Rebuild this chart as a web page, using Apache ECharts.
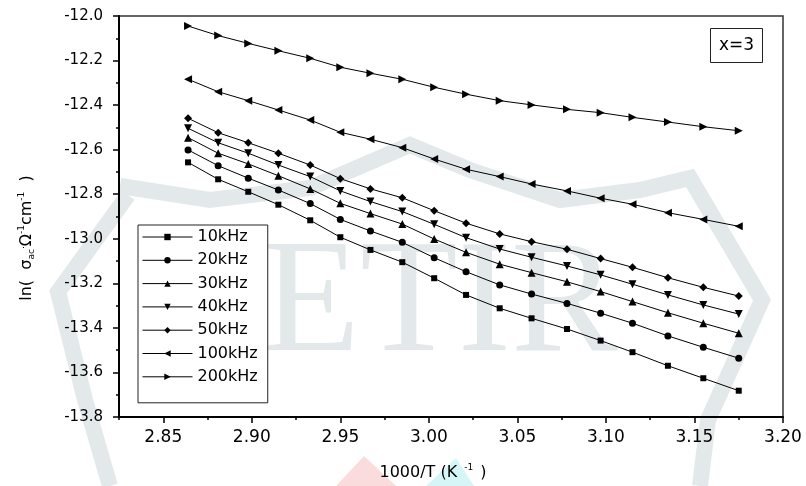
<!DOCTYPE html>
<html>
<head>
<meta charset="utf-8">
<script src="https://cdn.jsdelivr.net/npm/echarts@6/dist/echarts.min.js"></script>
<style>
  html, body { margin: 0; padding: 0; background: #fff; }
  #chart { width: 806px; height: 486px; }
</style>
</head>
<body>
<div id="chart"></div>
<script>
// 1000/T values (K^-1)
const invT = [2.864, 2.881, 2.898, 2.915, 2.933, 2.950, 2.967, 2.985, 3.003,
              3.021, 3.040, 3.058, 3.078, 3.097, 3.115, 3.135, 3.155, 3.175];

// ln(sigma_ac) for each frequency
const s10kHz  = [-12.657, -12.733, -12.789, -12.847, -12.917, -12.993, -13.050, -13.105, -13.177,
                 -13.252, -13.312, -13.357, -13.405, -13.457, -13.509, -13.570, -13.626, -13.682];
const s20kHz  = [-12.601, -12.672, -12.728, -12.781, -12.842, -12.913, -12.965, -13.016, -13.085,
                 -13.148, -13.207, -13.248, -13.290, -13.334, -13.379, -13.436, -13.487, -13.536];
const s30kHz  = [-12.546, -12.616, -12.664, -12.717, -12.776, -12.841, -12.887, -12.934, -13.001,
                 -13.061, -13.114, -13.152, -13.193, -13.237, -13.282, -13.332, -13.379, -13.424];
const s40kHz  = [-12.504, -12.569, -12.616, -12.669, -12.721, -12.785, -12.833, -12.878, -12.935,
                 -12.995, -13.046, -13.083, -13.122, -13.162, -13.204, -13.252, -13.297, -13.338];
const s50kHz  = [-12.459, -12.524, -12.569, -12.616, -12.669, -12.730, -12.776, -12.816, -12.874,
                 -12.930, -12.978, -13.013, -13.047, -13.089, -13.128, -13.175, -13.218, -13.257];
const s100kHz = [-12.284, -12.340, -12.380, -12.422, -12.467, -12.522, -12.553, -12.591, -12.642,
                 -12.688, -12.721, -12.754, -12.785, -12.818, -12.845, -12.883, -12.913, -12.944];
const s200kHz = [-12.045, -12.088, -12.123, -12.156, -12.190, -12.230, -12.257, -12.284, -12.320,
                 -12.351, -12.380, -12.399, -12.419, -12.434, -12.455, -12.476, -12.497, -12.515];

const xMajorTicks = [2.85, 2.90, 2.95, 3.00, 3.05, 3.10, 3.15, 3.20];
const xMinorTicks = [2.825, 2.875, 2.925, 2.975, 3.025, 3.075, 3.125, 3.175];

const seriesDefs = [
  { name: '10kHz',  data: s10kHz,  symbol: 'rect',     size: 6, rotate: 0 },
  { name: '20kHz',  data: s20kHz,  symbol: 'circle',   size: 7, rotate: 0 },
  { name: '30kHz',  data: s30kHz,  symbol: 'triangle', size: 8, rotate: 0 },
  { name: '40kHz',  data: s40kHz,  symbol: 'triangle', size: 8, rotate: 180 },
  { name: '50kHz',  data: s50kHz,  symbol: 'diamond',  size: 8, rotate: 0 },
  { name: '100kHz', data: s100kHz, symbol: 'triangle', size: 8, rotate: 90 },
  { name: '200kHz', data: s200kHz, symbol: 'triangle', size: 8, rotate: -90 }
];

const FONT = 'DejaVu Sans';
const WM = '#e3e9ea';

const chart = echarts.init(document.getElementById('chart'), null, { renderer: 'canvas' });

chart.setOption({
  backgroundColor: '#fff',
  animation: false,
  title: {
    text: 'x=3',
    left: 710,
    top: 28,
    padding: [8, 9, 8, 9],
    borderColor: '#222',
    borderWidth: 1,
    backgroundColor: '#fff',
    textStyle: { fontFamily: FONT, fontSize: 17, fontWeight: 'normal', color: '#000', lineHeight: 19 }
  },
  legend: {
    orient: 'vertical',
    left: 138,
    top: 225,
    padding: [4, 10, 18, 4],
    itemGap: 7.3,
    itemWidth: 50,
    itemHeight: 8,
    itemStyle: { color: '#000' },
    lineStyle: { color: '#000', width: 1 },
    backgroundColor: '#fff',
    borderColor: '#222',
    borderWidth: 1,
    textStyle: { fontFamily: FONT, fontSize: 16, color: '#000', lineHeight: 16 },
    data: seriesDefs.map(d => d.name)
  },
  grid: {
    left: 119, right: 23, top: 16, bottom: 69,
    show: true,
    borderColor: '#333',
    borderWidth: 1.5
  },
  xAxis: [{
    type: 'value',
    min: 2.825,
    max: 3.20,
    axisLine: { onZero: false, lineStyle: { color: '#000', width: 2 } },
    axisTick: { length: 6, customValues: xMajorTicks, lineStyle: { color: '#000', width: 1.5 } },
    axisLabel: {
      customValues: xMajorTicks,
      margin: 12,
      fontFamily: FONT, fontSize: 17, color: '#000',
      formatter: v => v.toFixed(2)
    },
    splitLine: { show: false }
  }, {
    type: 'value',
    min: 2.825,
    max: 3.20,
    position: 'bottom',
    axisLine: { show: false },
    axisTick: { length: 3, customValues: xMinorTicks, lineStyle: { color: '#000', width: 1.5 } },
    axisLabel: { show: false },
    splitLine: { show: false }
  }],
  yAxis: {
    type: 'value',
    min: -13.8,
    max: -12.0,
    interval: 0.2,
    axisLine: { show: true, onZero: false, lineStyle: { color: '#000', width: 2 } },
    axisTick: { show: true, length: 6, lineStyle: { color: '#000', width: 1.5 } },
    minorTick: { show: true, splitNumber: 2, length: 3, lineStyle: { color: '#000', width: 1.5 } },
    axisLabel: {
      margin: 16,
      fontFamily: FONT, fontSize: 15, color: '#000',
      formatter: v => v.toFixed(1)
    },
    splitLine: { show: false }
  },
  graphic: [
    // faint ETIR watermark behind the plot
    {
      type: 'text', z: -10, silent: true,
      style: { text: 'ETIR', x: 440, y: 308, align: 'center', verticalAlign: 'middle',
               font: '160px "Liberation Serif"', fill: WM }
    },
    {
      type: 'polyline', z: -10, silent: true,
      shape: { points: [[128, 195], [58, 292], [85, 400], [110, 486]] },
      style: { stroke: WM, lineWidth: 16, fill: null }
    },
    {
      type: 'polyline', z: -10, silent: true,
      shape: { points: [[120, 186], [210, 200], [310, 188], [410, 145], [470, 170], [560, 200], [640, 190], [690, 178], [762, 300], [708, 420], [700, 486]] },
      style: { stroke: WM, lineWidth: 16, fill: null }
    },
    {
      type: 'polygon', z: -10, silent: true,
      shape: { points: [[364, 456], [336, 486], [396, 486]] },
      style: { fill: '#fbdcdc' }
    },
    {
      type: 'polygon', z: -10, silent: true,
      shape: { points: [[456, 458], [426, 486], [474, 486]] },
      style: { fill: '#d6f5f7' }
    },
    // y axis title
    {
      type: 'text',
      x: 27, y: 238,
      rotation: Math.PI / 2,
      style: {
        text: 'ln(  σ{sub|ac}{sup|.}Ω{sup|-1}cm{sup|-1}  )',
        align: 'center', verticalAlign: 'middle',
        fontFamily: FONT, fontSize: 16, fill: '#000',
        rich: {
          sub: { fontFamily: FONT, fontSize: 9, verticalAlign: 'bottom', padding: [10, 0, 0, 0] },
          sup: { fontFamily: FONT, fontSize: 9, verticalAlign: 'top', padding: [0, 0, 10, 0] }
        }
      }
    },
    // x axis title
    {
      type: 'text',
      x: 433, y: 473,
      style: {
        text: '1000/T (K {sup|-1} )',
        align: 'center', verticalAlign: 'middle',
        fontFamily: FONT, fontSize: 16, fill: '#000',
        rich: {
          sup: { fontFamily: FONT, fontSize: 9, verticalAlign: 'top', padding: [0, 2, 10, 2] }
        }
      }
    }
  ],
  series: seriesDefs.map(d => ({
    name: d.name,
    type: 'line',
    data: invT.map((x, i) => [x, d.data[i]]),
    symbol: d.symbol,
    symbolSize: d.size,
    symbolRotate: d.rotate,
    showAllSymbol: true,
    color: '#000',
    lineStyle: { color: '#000', width: 1 },
    itemStyle: { color: '#000', borderWidth: 0 }
  }))
});
</script>
</body>
</html>
